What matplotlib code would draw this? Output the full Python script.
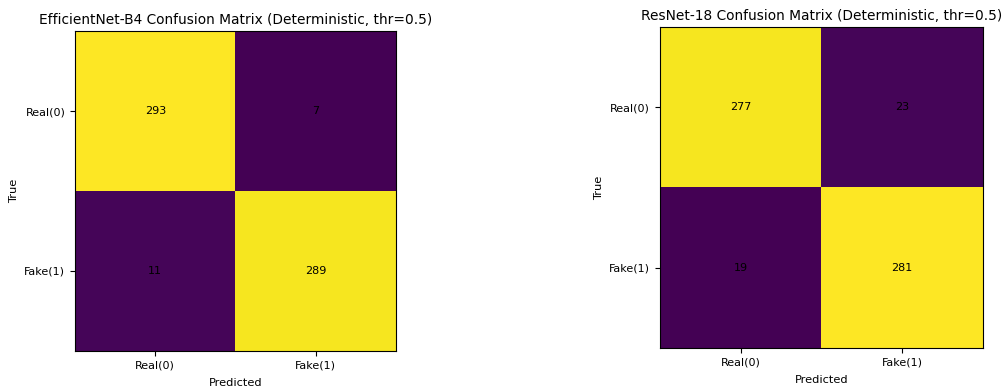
import numpy as np
import matplotlib.pyplot as plt

# Class names and confusion matrices (rows = true, cols = predicted)
class_names = ["Real(0)", "Fake(1)"]
cm_effnet = np.array([[293, 7],
                      [11, 289]])
cm_resnet = np.array([[277, 23],
                      [19, 281]])

titles = ["EfficientNet-B4 Confusion Matrix (Deterministic, thr=0.5)",
          "ResNet-18 Confusion Matrix (Deterministic, thr=0.5)"]

fig = plt.figure(figsize=(10.06, 3.89), dpi=100)
ax_rects = [[0.0746, 0.0977, 0.319, 0.8226],
            [0.656, 0.1054, 0.321, 0.825]]


def plot_cm(ax, cm, title):
    ax.imshow(cm, cmap="viridis", aspect="auto")
    ax.set_title(title, fontsize=9.9, pad=5)
    ax.set_xticks(range(len(class_names)))
    ax.set_yticks(range(len(class_names)))
    ax.set_xticklabels(class_names, fontsize=8)
    ax.set_yticklabels(class_names, fontsize=8)
    ax.set_xlabel("Predicted", fontsize=8.2, labelpad=5)
    ax.set_ylabel("True", fontsize=8.2, labelpad=4)
    for i in range(cm.shape[0]):
        for j in range(cm.shape[1]):
            ax.text(j, i, str(cm[i, j]), ha="center", va="center",
                    color="black", fontsize=8)


for rect, cm, title in zip(ax_rects, [cm_effnet, cm_resnet], titles):
    ax = fig.add_axes(rect)
    plot_cm(ax, cm, title)

fig.savefig("out.png", dpi=100)
